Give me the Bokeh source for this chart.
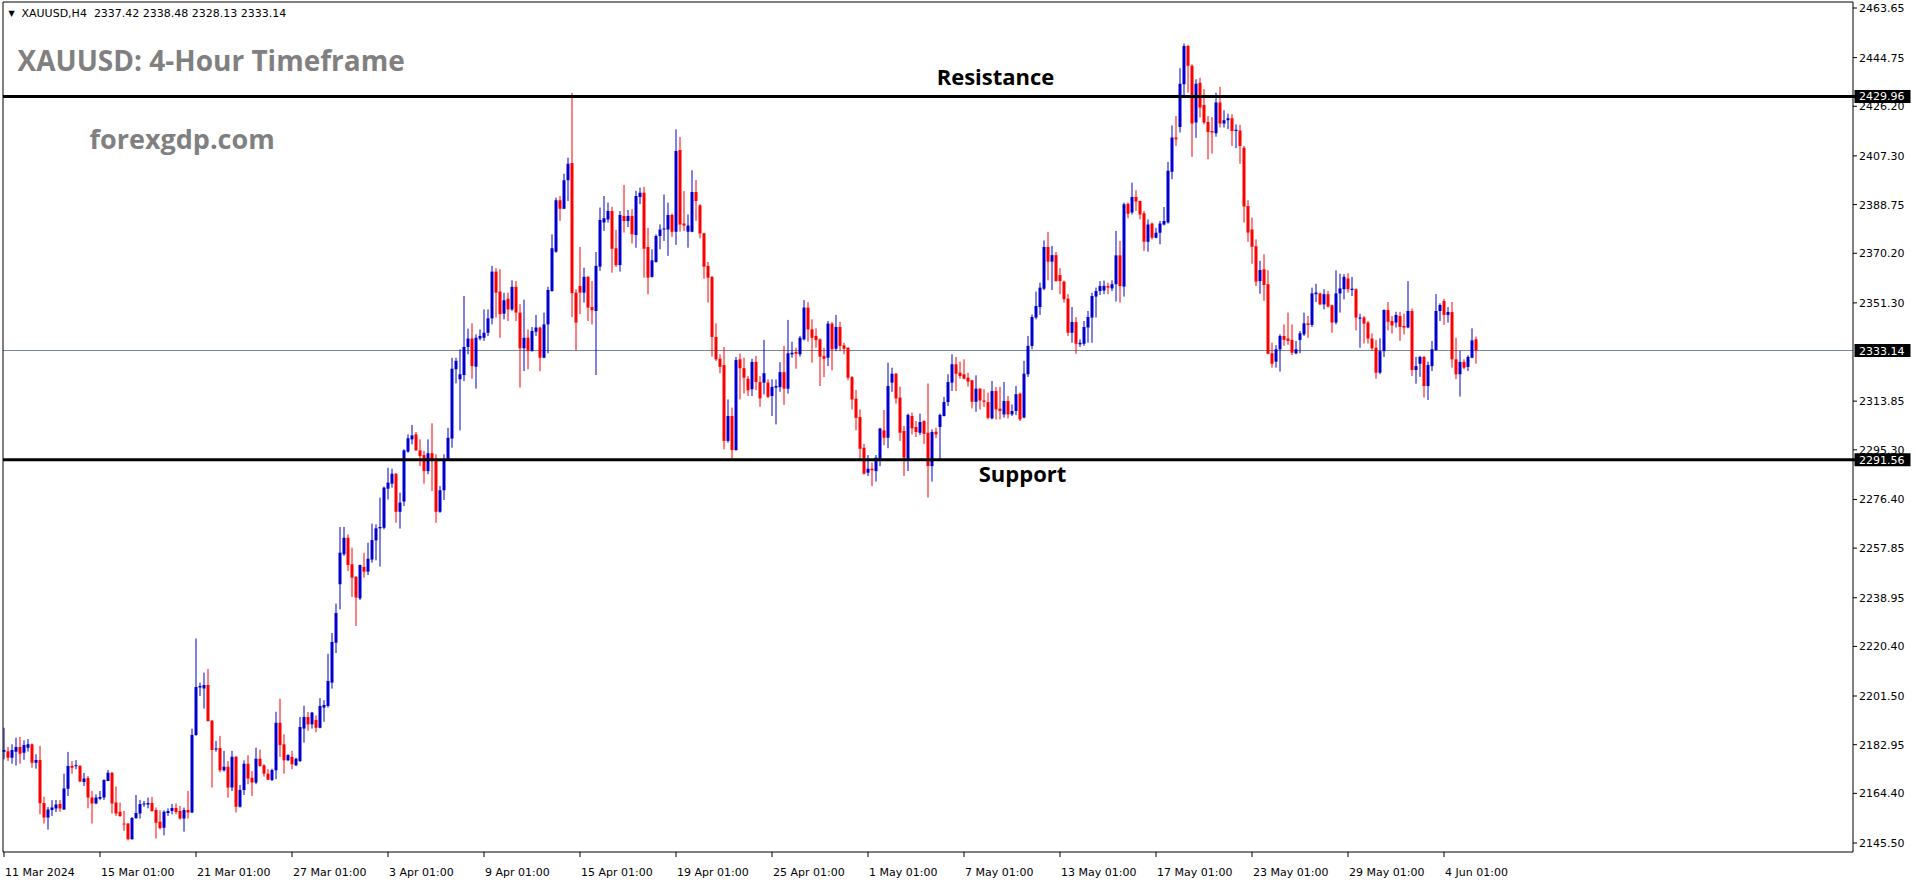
from bokeh.plotting import figure
from bokeh.models import Range1d, ColumnDataSource
from bokeh.core.properties import value
from bokeh.embed import file_html
from bokeh.resources import INLINE

# ---------------- data (XAUUSD H4 candles) ----------------
opens = [
    2180.3, 2180.5, 2178.0, 2180.3, 2182.1, 2179.9, 2181.8, 2183.1, 2176.1, 2177.1,
    2160.7, 2155.2, 2158.1, 2158.6, 2160.4, 2158.3, 2166.2, 2174.8, 2174.7, 2174.8,
    2168.7, 2170.3, 2162.8, 2160.5, 2162.4, 2162.8, 2169.1, 2172.3, 2160.9, 2157.4,
    2152.9, 2152.9, 2146.9, 2154.9, 2156.7, 2160.2, 2160.2, 2160.7, 2158.1, 2153.6,
    2151.3, 2156.9, 2157.7, 2158.8, 2157.7, 2154.8, 2158.1, 2157.1, 2186.6, 2204.7,
    2204.4, 2205.7, 2192.1, 2181.1, 2181.7, 2173.2, 2174.5, 2166.6, 2178.4, 2159.3,
    2165.7, 2175.7, 2170.4, 2168.5, 2177.6, 2175.1, 2171.9, 2169.5, 2173.2, 2191.3,
    2183.1, 2177.0, 2178.3, 2175.1, 2176.7, 2189.1, 2193.5, 2190.7, 2192.4, 2189.4,
    2197.1, 2197.7, 2206.6, 2221.8, 2244.1, 2255.5, 2261.8, 2251.7, 2246.9, 2238.7,
    2250.7, 2248.9, 2253.5, 2260.8, 2265.4, 2265.6, 2280.5, 2282.4, 2286.2, 2271.7,
    2275.6, 2294.6, 2299.3, 2301.2, 2295.1, 2293.3, 2287.2, 2294.0, 2291.1, 2271.7,
    2279.9, 2291.7, 2299.6, 2326.0, 2322.2, 2323.8, 2334.5, 2337.7, 2327.0, 2337.7,
    2338.0, 2339.9, 2345.4, 2363.2, 2355.6, 2347.2, 2352.9, 2348.8, 2357.4, 2347.6,
    2334.0, 2338.0, 2333.0, 2340.3, 2341.9, 2330.4, 2343.1, 2355.8, 2370.8, 2390.4,
    2387.2, 2398.0, 2404.6, 2355.2, 2357.7, 2355.2, 2361.2, 2349.7, 2348.2, 2365.1,
    2381.9, 2383.1, 2386.3, 2372.1, 2365.7, 2384.4, 2382.5, 2384.4, 2377.2, 2391.6,
    2393.3, 2372.6, 2361.2, 2366.9, 2376.8, 2379.3, 2379.3, 2384.8, 2378.4, 2409.5,
    2381.5, 2378.4, 2378.4, 2393.5, 2388.5, 2377.8, 2365.4, 2361.2, 2338.3, 2330.0,
    2327.6, 2298.7, 2308.2, 2295.2, 2329.8, 2326.4, 2322.4, 2318.4, 2328.8, 2321.1,
    2320.9, 2320.9, 2315.8, 2319.0, 2319.2, 2324.9, 2318.6, 2331.7, 2332.6, 2331.7,
    2337.4, 2349.5, 2341.2, 2338.7, 2337.4, 2331.0, 2330.4, 2343.4, 2333.8, 2342.1,
    2335.1, 2334.2, 2323.0, 2314.8, 2307.8, 2296.1, 2286.6, 2288.1, 2287.2, 2291.7,
    2302.7, 2299.9, 2320.9, 2324.3, 2315.2, 2302.5, 2291.7, 2308.2, 2304.0, 2301.8,
    2306.3, 2301.8, 2289.1, 2302.2, 2304.0, 2308.2, 2313.5, 2320.9, 2327.9, 2324.7,
    2324.1, 2322.8, 2321.8, 2313.6, 2318.6, 2314.1, 2313.5, 2307.3, 2317.7, 2311.0,
    2308.8, 2313.9, 2308.8, 2310.1, 2316.7, 2307.6, 2324.1, 2334.9, 2345.7, 2349.7,
    2356.7, 2372.6, 2367.0, 2369.5, 2361.9, 2359.4, 2352.9, 2339.9, 2344.0, 2335.5,
    2335.7, 2341.9, 2345.7, 2353.7, 2355.8, 2356.0, 2357.7, 2356.8, 2358.4, 2369.4,
    2357.5, 2389.1, 2385.7, 2391.6, 2390.1, 2385.4, 2374.6, 2381.5, 2376.1, 2378.0,
    2381.2, 2381.9, 2401.3, 2414.3, 2418.3, 2434.6, 2449.2, 2441.6, 2420.0, 2435.2,
    2426.7, 2420.2, 2416.8, 2415.9, 2427.6, 2419.6, 2420.9, 2421.6, 2416.8, 2417.0,
    2410.4, 2388.2, 2379.3, 2372.9, 2359.6, 2364.1, 2358.4, 2332.1, 2328.9, 2333.6,
    2338.7, 2337.7, 2337.2, 2332.1, 2337.2, 2339.3, 2343.5, 2342.9, 2354.6, 2354.9,
    2350.7, 2354.6, 2350.4, 2343.8, 2354.9, 2356.5, 2360.6, 2356.2, 2356.5, 2345.3,
    2345.7, 2343.8, 2337.7, 2334.2, 2324.7, 2332.9, 2348.6, 2344.4, 2343.8, 2346.3,
    2342.5, 2341.9, 2348.2, 2325.7, 2328.1, 2330.7, 2319.6, 2327.2, 2333.3, 2348.2,
    2352.0, 2346.7, 2347.8, 2329.8, 2324.1, 2328.8, 2326.9, 2330.4, 2337.42,
]
highs = [
    2189.4, 2182.1, 2183.1, 2185.6, 2185.9, 2184.6, 2185.1, 2183.4, 2179.3, 2182.5,
    2163.1, 2159.2, 2161.8, 2161.9, 2161.9, 2171.9, 2180.2, 2176.7, 2177.1, 2175.2,
    2172.2, 2171.0, 2165.3, 2164.0, 2165.3, 2169.8, 2173.3, 2172.5, 2167.0, 2160.9,
    2157.7, 2153.0, 2155.4, 2163.8, 2161.9, 2161.5, 2162.8, 2163.0, 2159.0, 2157.9,
    2157.9, 2158.7, 2160.4, 2160.6, 2159.6, 2159.0, 2165.3, 2189.1, 2223.4, 2206.6,
    2210.4, 2211.8, 2192.4, 2184.4, 2186.3, 2180.6, 2176.7, 2180.6, 2178.6, 2167.6,
    2177.0, 2178.9, 2172.9, 2181.8, 2181.1, 2175.5, 2173.6, 2173.8, 2195.5, 2200.5,
    2186.9, 2179.3, 2180.6, 2178.0, 2193.5, 2197.8, 2195.4, 2195.4, 2194.1, 2200.7,
    2199.9, 2217.6, 2225.5, 2236.7, 2265.9, 2265.9, 2263.1, 2258.0, 2247.2, 2251.6,
    2256.1, 2259.9, 2267.2, 2266.9, 2277.1, 2281.3, 2288.5, 2288.1, 2286.4, 2279.0,
    2295.5, 2301.2, 2304.8, 2302.1, 2299.3, 2294.9, 2299.3, 2305.4, 2293.6, 2281.5,
    2293.6, 2303.7, 2330.4, 2330.4, 2333.6, 2353.9, 2341.5, 2343.5, 2339.3, 2341.2,
    2348.8, 2348.8, 2365.4, 2364.5, 2364.1, 2355.2, 2355.2, 2359.9, 2359.6, 2350.8,
    2352.5, 2341.2, 2342.1, 2346.7, 2342.2, 2347.6, 2357.4, 2377.4, 2391.4, 2392.0,
    2400.5, 2406.6, 2431.3, 2356.5, 2372.6, 2364.7, 2361.5, 2359.6, 2370.7, 2387.6,
    2392.0, 2389.5, 2387.9, 2379.1, 2386.3, 2396.2, 2386.7, 2387.0, 2394.0, 2395.2,
    2395.5, 2379.9, 2371.7, 2377.4, 2381.2, 2392.6, 2389.5, 2385.3, 2417.4, 2414.5,
    2393.9, 2385.0, 2401.8, 2398.1, 2388.9, 2378.0, 2366.9, 2361.5, 2343.5, 2331.7,
    2334.5, 2314.5, 2311.4, 2330.7, 2332.0, 2330.4, 2323.4, 2330.0, 2331.1, 2323.4,
    2337.2, 2322.2, 2322.2, 2322.1, 2328.7, 2334.9, 2344.8, 2336.5, 2334.2, 2338.7,
    2352.4, 2351.6, 2345.0, 2341.6, 2337.8, 2334.2, 2344.4, 2344.0, 2346.7, 2344.1,
    2336.1, 2334.4, 2323.4, 2318.1, 2310.7, 2297.6, 2293.3, 2290.4, 2293.3, 2303.7,
    2310.5, 2328.5, 2326.6, 2324.6, 2319.4, 2304.4, 2309.1, 2309.5, 2306.3, 2309.1,
    2306.5, 2320.6, 2303.1, 2303.7, 2309.1, 2315.5, 2324.1, 2331.7, 2330.7, 2328.9,
    2329.8, 2324.7, 2322.0, 2323.7, 2318.8, 2318.4, 2317.1, 2321.5, 2319.2, 2319.3,
    2321.2, 2315.8, 2312.6, 2319.6, 2317.1, 2329.2, 2338.7, 2346.9, 2355.6, 2359.0,
    2375.1, 2378.3, 2373.0, 2370.7, 2364.5, 2359.8, 2354.6, 2349.7, 2345.9, 2337.4,
    2344.4, 2348.2, 2355.2, 2357.1, 2359.6, 2359.8, 2359.0, 2359.9, 2378.7, 2374.9,
    2389.5, 2389.5, 2397.1, 2394.2, 2390.3, 2386.3, 2383.1, 2381.9, 2379.9, 2382.5,
    2387.8, 2405.0, 2418.9, 2422.5, 2440.7, 2450.1, 2449.6, 2442.2, 2436.5, 2437.1,
    2432.7, 2422.5, 2422.1, 2431.4, 2433.6, 2424.7, 2423.4, 2423.2, 2419.3, 2419.1,
    2411.1, 2390.4, 2383.8, 2375.5, 2367.3, 2369.8, 2363.7, 2336.1, 2335.2, 2339.3,
    2343.1, 2347.6, 2343.1, 2336.8, 2340.6, 2347.6, 2346.3, 2357.1, 2358.6, 2355.2,
    2356.5, 2355.8, 2350.6, 2363.7, 2362.4, 2362.2, 2362.6, 2361.2, 2356.8, 2347.2,
    2346.3, 2344.4, 2339.7, 2337.2, 2337.8, 2348.8, 2351.6, 2346.3, 2347.9, 2347.9,
    2347.2, 2359.6, 2349.1, 2330.7, 2331.1, 2331.0, 2328.9, 2336.8, 2354.6, 2351.1,
    2352.9, 2349.7, 2351.6, 2338.0, 2333.0, 2329.8, 2331.3, 2341.6, 2338.48,
]
lows = [
    2177.4, 2176.7, 2175.7, 2175.0, 2175.7, 2177.2, 2180.3, 2174.2, 2173.8, 2156.4,
    2152.9, 2150.6, 2155.8, 2157.3, 2157.4, 2158.1, 2163.4, 2171.9, 2173.6, 2168.7,
    2167.2, 2158.7, 2152.9, 2160.3, 2161.8, 2161.9, 2169.0, 2156.7, 2155.8, 2155.4,
    2150.1, 2146.5, 2146.8, 2154.8, 2154.8, 2159.3, 2158.7, 2157.4, 2147.2, 2150.6,
    2148.4, 2155.8, 2156.4, 2156.4, 2154.4, 2149.8, 2154.8, 2156.9, 2186.3, 2201.5,
    2196.7, 2191.7, 2166.6, 2180.3, 2172.4, 2172.7, 2162.8, 2165.3, 2157.1, 2159.0,
    2163.8, 2167.9, 2163.4, 2167.9, 2174.6, 2170.8, 2169.5, 2169.1, 2169.8, 2178.3,
    2171.9, 2176.7, 2173.6, 2174.8, 2176.4, 2183.7, 2188.3, 2189.1, 2187.7, 2189.2,
    2191.7, 2197.1, 2204.3, 2217.9, 2234.5, 2254.9, 2249.1, 2239.2, 2228.2, 2238.1,
    2246.6, 2247.6, 2252.3, 2253.2, 2250.8, 2265.0, 2276.4, 2280.9, 2267.5, 2265.3,
    2273.9, 2294.2, 2297.4, 2294.9, 2289.1, 2282.4, 2286.0, 2279.6, 2267.5, 2271.3,
    2276.2, 2291.1, 2296.1, 2320.6, 2302.7, 2321.5, 2331.7, 2322.4, 2318.6, 2337.0,
    2336.8, 2338.7, 2343.1, 2345.7, 2338.0, 2345.0, 2344.4, 2348.2, 2344.4, 2319.0,
    2325.3, 2326.0, 2332.7, 2338.7, 2325.3, 2330.2, 2332.1, 2355.6, 2370.4, 2382.5,
    2387.0, 2390.1, 2345.9, 2333.3, 2347.0, 2351.4, 2344.4, 2343.1, 2323.8, 2363.5,
    2378.7, 2381.9, 2362.8, 2365.0, 2363.2, 2378.1, 2380.2, 2373.9, 2372.3, 2388.9,
    2360.9, 2354.6, 2360.9, 2366.6, 2371.7, 2374.9, 2369.2, 2376.4, 2373.4, 2378.4,
    2378.7, 2372.3, 2378.2, 2382.5, 2375.9, 2360.5, 2351.4, 2330.8, 2329.2, 2324.5,
    2295.5, 2298.0, 2292.1, 2295.0, 2314.5, 2316.8, 2315.8, 2315.8, 2318.0, 2311.7,
    2316.4, 2315.0, 2308.2, 2305.0, 2317.4, 2312.4, 2316.7, 2330.4, 2326.2, 2330.8,
    2337.0, 2336.5, 2328.5, 2334.2, 2319.6, 2323.0, 2327.2, 2325.6, 2332.9, 2332.9,
    2331.7, 2321.8, 2310.7, 2302.7, 2291.7, 2285.9, 2285.3, 2281.5, 2283.2, 2289.1,
    2297.1, 2295.9, 2317.4, 2312.9, 2298.7, 2285.3, 2287.2, 2301.2, 2300.2, 2300.9,
    2297.6, 2277.1, 2283.2, 2299.7, 2291.3, 2308.0, 2312.0, 2317.7, 2317.7, 2322.4,
    2322.1, 2319.4, 2311.1, 2309.8, 2310.7, 2311.6, 2306.9, 2306.9, 2306.9, 2306.9,
    2307.6, 2307.3, 2308.2, 2308.5, 2306.3, 2307.3, 2323.1, 2333.6, 2345.0, 2346.7,
    2356.1, 2359.9, 2356.2, 2359.4, 2354.6, 2351.4, 2338.7, 2336.1, 2331.9, 2334.5,
    2334.9, 2336.1, 2336.1, 2345.7, 2354.3, 2354.6, 2354.6, 2355.8, 2351.8, 2351.4,
    2353.7, 2383.5, 2385.0, 2386.3, 2383.1, 2371.1, 2370.8, 2375.5, 2375.9, 2373.6,
    2380.8, 2381.5, 2398.4, 2411.1, 2416.2, 2430.1, 2431.4, 2406.9, 2414.2, 2421.9,
    2419.3, 2406.0, 2408.2, 2414.6, 2418.1, 2418.1, 2417.5, 2411.1, 2410.2, 2404.3,
    2381.9, 2374.6, 2366.2, 2357.7, 2354.8, 2352.1, 2331.7, 2326.6, 2326.6, 2325.1,
    2334.9, 2335.3, 2331.4, 2331.7, 2332.1, 2338.7, 2338.0, 2342.1, 2351.6, 2350.5,
    2348.8, 2349.5, 2339.9, 2343.1, 2347.6, 2352.6, 2355.2, 2353.9, 2340.8, 2334.2,
    2335.8, 2335.8, 2333.0, 2322.4, 2324.1, 2330.7, 2340.8, 2339.6, 2341.9, 2336.8,
    2339.3, 2341.6, 2323.4, 2320.5, 2323.1, 2315.2, 2314.3, 2325.3, 2333.1, 2344.4,
    2342.9, 2343.8, 2326.6, 2322.2, 2315.6, 2326.0, 2325.3, 2330.2, 2328.13,
]
closes = [
    2180.9, 2178.0, 2180.9, 2182.1, 2179.5, 2182.8, 2183.1, 2176.1, 2177.1, 2160.6,
    2155.2, 2158.3, 2159.0, 2160.2, 2158.6, 2166.3, 2174.8, 2174.2, 2175.0, 2168.9,
    2170.1, 2162.8, 2160.5, 2162.8, 2163.0, 2169.5, 2172.3, 2160.5, 2156.7, 2155.8,
    2152.5, 2146.9, 2155.0, 2156.9, 2160.4, 2160.5, 2160.7, 2157.7, 2153.2, 2151.2,
    2157.4, 2157.7, 2158.8, 2157.3, 2154.8, 2158.1, 2157.1, 2186.6, 2204.9, 2205.3,
    2205.7, 2192.0, 2180.9, 2181.3, 2173.2, 2174.5, 2166.6, 2178.4, 2159.3, 2165.7,
    2175.7, 2170.1, 2168.5, 2177.6, 2174.8, 2171.9, 2169.6, 2173.3, 2191.3, 2182.8,
    2177.0, 2179.0, 2175.5, 2177.6, 2189.7, 2193.5, 2190.7, 2195.2, 2189.4, 2197.7,
    2198.1, 2207.2, 2222.1, 2233.1, 2256.1, 2261.8, 2251.4, 2246.6, 2239.0, 2251.4,
    2248.9, 2253.8, 2260.9, 2265.4, 2265.9, 2280.9, 2282.8, 2286.2, 2271.7, 2275.2,
    2295.1, 2299.7, 2300.8, 2295.1, 2292.9, 2287.2, 2294.0, 2291.1, 2271.7, 2279.9,
    2291.7, 2299.9, 2326.2, 2329.2, 2324.1, 2334.5, 2337.7, 2327.2, 2338.0, 2338.7,
    2339.9, 2345.4, 2363.2, 2355.2, 2347.0, 2352.3, 2348.8, 2357.4, 2347.6, 2334.0,
    2338.0, 2333.0, 2340.6, 2341.9, 2330.4, 2343.1, 2356.2, 2372.1, 2390.4, 2387.2,
    2398.0, 2404.3, 2355.0, 2343.8, 2355.2, 2361.2, 2349.5, 2348.5, 2365.4, 2382.9,
    2383.5, 2386.3, 2371.9, 2365.7, 2384.8, 2382.5, 2384.4, 2377.4, 2392.0, 2393.3,
    2371.9, 2360.9, 2367.5, 2376.8, 2379.3, 2379.6, 2384.8, 2378.4, 2409.2, 2381.2,
    2380.8, 2380.8, 2393.5, 2390.1, 2377.7, 2365.1, 2360.9, 2338.3, 2329.8, 2326.9,
    2298.7, 2308.2, 2295.2, 2329.5, 2326.4, 2322.8, 2318.0, 2328.8, 2321.1, 2314.9,
    2324.5, 2315.5, 2319.3, 2319.6, 2324.9, 2318.6, 2332.1, 2332.3, 2331.9, 2338.0,
    2349.5, 2341.2, 2338.0, 2337.1, 2330.8, 2330.0, 2343.4, 2333.6, 2342.1, 2334.9,
    2333.8, 2322.8, 2314.5, 2307.5, 2295.7, 2286.2, 2288.1, 2287.5, 2292.3, 2303.4,
    2299.9, 2319.6, 2324.3, 2314.9, 2301.8, 2292.3, 2308.6, 2303.5, 2302.1, 2305.9,
    2301.4, 2289.1, 2302.1, 2301.2, 2308.6, 2313.5, 2321.1, 2327.9, 2324.3, 2323.4,
    2322.4, 2321.3, 2313.6, 2318.6, 2314.1, 2313.6, 2307.5, 2317.7, 2310.7, 2310.1,
    2313.9, 2308.8, 2310.1, 2316.5, 2306.9, 2324.3, 2334.9, 2345.9, 2350.1, 2357.1,
    2372.6, 2367.0, 2369.5, 2359.6, 2359.6, 2352.7, 2339.9, 2344.0, 2335.7, 2336.1,
    2342.1, 2345.9, 2353.9, 2355.8, 2357.7, 2357.8, 2357.1, 2358.4, 2369.4, 2357.7,
    2388.9, 2385.3, 2391.6, 2389.9, 2385.0, 2374.6, 2381.2, 2376.1, 2378.0, 2381.5,
    2382.5, 2401.6, 2414.3, 2413.6, 2434.8, 2449.2, 2441.6, 2419.6, 2434.8, 2425.7,
    2420.0, 2416.4, 2416.2, 2427.6, 2419.6, 2420.9, 2421.6, 2416.8, 2417.3, 2411.1,
    2388.0, 2378.1, 2372.7, 2359.4, 2363.8, 2358.1, 2331.9, 2328.1, 2333.6, 2338.7,
    2337.2, 2336.8, 2332.3, 2333.6, 2339.7, 2343.5, 2342.9, 2354.9, 2355.2, 2350.7,
    2354.6, 2349.9, 2343.8, 2354.9, 2356.8, 2361.2, 2356.5, 2356.7, 2345.7, 2345.7,
    2343.4, 2337.7, 2334.0, 2324.7, 2332.9, 2348.6, 2344.1, 2342.7, 2346.7, 2342.1,
    2341.9, 2348.2, 2325.7, 2327.2, 2330.7, 2319.6, 2327.6, 2333.6, 2348.2, 2350.5,
    2346.7, 2347.8, 2329.8, 2324.1, 2328.8, 2326.6, 2330.7, 2337.0, 2333.14,
]

date_labels = ["11 Mar 2024", "15 Mar 01:00", "21 Mar 01:00", "27 Mar 01:00",
               "3 Apr 01:00", "9 Apr 01:00", "15 Apr 01:00", "19 Apr 01:00",
               "25 Apr 01:00", "1 May 01:00", "7 May 01:00", "13 May 01:00",
               "17 May 01:00", "23 May 01:00", "29 May 01:00", "4 Jun 01:00"]
date_bars = [0, 24, 48, 72, 96, 120, 144, 168, 192, 216, 240, 264, 288, 312, 336, 360]
price_ticks = [2463.65, 2444.75, 2426.20, 2407.30, 2388.75, 2370.20, 2351.30,
               2313.85, 2295.30, 2276.40, 2257.85, 2238.95, 2220.40, 2201.50,
               2182.95, 2164.40, 2145.50]
resistance_level = 2429.96
support_level = 2291.56
last_price = 2333.14
symbol_info = "XAUUSD,H4\u00a0\u00a02337.42 2338.48 2328.13 2333.14"

# ---------------- layout (canvas pixels -> data units) ----------------
W, H = 1912, 882
PX_PER_BAR = 4.0
CX_FIRST = 3.5                 # canvas x of the first candle
PX_PER_USD = 2.6245            # vertical scale of the price axis
CY_REF, P_REF = 7.5, 2463.65   # canvas y of the top price tick
CX_LEFT, CX_AXIS = 2.5, 1852.5
CY_TOP, CY_BOT = 1.5, 851.5
BULL = "#0000CD"
BEAR = "#FF0000"
GRAY = "#808080"
FONT_AX = "DejaVu Sans"
FONT_TX = "Open Sans"


def X(cx):
    return (cx - CX_FIRST) / PX_PER_BAR


def Y(cy):
    return P_REF - (cy - CY_REF) / PX_PER_USD


p = figure(width=W, height=H, x_range=Range1d(X(0), X(W)), y_range=Range1d(Y(H), Y(0)),
           x_axis_type=None, y_axis_type=None, toolbar_location=None,
           output_backend="svg", min_border=0, outline_line_color=None,
           background_fill_color="white", border_fill_color="white")
p.title.visible = False

# ---- candles ----
n = min(len(opens), len(highs), len(lows), len(closes))
xs = list(range(n))
colors = [BULL if closes[i] >= opens[i] else BEAR for i in xs]
body_bot = [min(opens[i], closes[i]) for i in xs]
body_top = [max(max(opens[i], closes[i]), body_bot[i] + 1.0 / PX_PER_USD) for i in xs]
src = ColumnDataSource(dict(x=xs, top=body_top, bottom=body_bot,
                            high=highs[:n], low=lows[:n], color=colors))

# ---- level lines (under the candles) ----
p.segment(x0=[X(CX_LEFT)], x1=[X(CX_AXIS)], y0=[last_price], y1=[last_price],
          line_color="#778899", line_width=1)

p.segment(x0="x", y0="low", x1="x", y1="high", line_color="color", line_width=1, source=src)
p.vbar(x="x", width=3.0 / PX_PER_BAR, top="top", bottom="bottom", fill_color="color",
       line_color=None, source=src)

p.segment(x0=[X(CX_LEFT)] * 2, x1=[X(CX_AXIS + 2)] * 2,
          y0=[resistance_level, support_level], y1=[resistance_level, support_level],
          line_color="black", line_width=3)

# ---- chart frame ----
p.segment(x0=[X(CX_LEFT), X(CX_LEFT), X(CX_LEFT), X(CX_AXIS)],
          y0=[Y(CY_TOP), Y(CY_TOP), Y(CY_BOT), Y(CY_TOP)],
          x1=[X(CX_LEFT), X(CX_AXIS), X(CX_AXIS), X(CX_AXIS)],
          y1=[Y(CY_BOT), Y(CY_TOP), Y(CY_BOT), Y(CY_BOT)],
          line_color="black", line_width=1)

# ---- price axis (right) ----
p.segment(x0=[X(CX_AXIS)] * len(price_ticks), x1=[X(CX_AXIS + 4)] * len(price_ticks),
          y0=price_ticks, y1=price_ticks, line_color="black", line_width=1)
p.text(x=[X(CX_AXIS + 6)] * len(price_ticks), y=price_ticks,
       text=["%.2f" % t for t in price_ticks],
       text_font=value(FONT_AX), text_font_size=value("11px"), text_color="black",
       text_align=value("left"), text_baseline=value("middle"))

levels = [resistance_level, last_price, support_level]
half_box = 6.5 / PX_PER_USD
p.quad(left=[X(CX_AXIS + 1.5)] * 3, right=[X(CX_AXIS + 57.5)] * 3,
       top=[v + half_box for v in levels], bottom=[v - half_box for v in levels],
       fill_color="black", line_color=None)
p.text(x=[X(CX_AXIS + 6)] * 3, y=levels, text=["%.2f" % v for v in levels],
       text_font=value(FONT_AX), text_font_size=value("11px"), text_color="white",
       text_align=value("left"), text_baseline=value("middle"))

# ---- time axis (bottom) ----
p.segment(x0=date_bars, x1=date_bars, y0=[Y(CY_BOT)] * len(date_bars),
          y1=[Y(CY_BOT + 5)] * len(date_bars), line_color="black", line_width=1)
p.text(x=date_bars, y=[Y(872)] * len(date_bars), text=date_labels, x_offset=1,
       text_font=value(FONT_AX), text_font_size=value("11px"), text_color="black",
       text_align=value("left"), text_baseline=value("middle"))


# ---- texts on the chart ----
def put_text(cx, cy, txt, font, size, color, bold=False, align="left"):
    p.text(x=[X(cx)], y=[Y(cy)], text=[txt], text_font=value(font),
           text_font_size=value(size), text_color=color,
           text_font_style=value("bold" if bold else "normal"),
           text_align=value(align), text_baseline=value("middle"))


put_text(11, 13, "\u25bc", FONT_AX, "8px", "black", align="center")
put_text(21, 13, symbol_info, FONT_AX, "11px", "black")
put_text(17, 59, "XAUUSD: 4-Hour Timeframe", FONT_TX, "28px", GRAY, bold=True)
put_text(89, 138, "forexgdp.com", FONT_TX, "27px", GRAY, bold=True)
put_text(995, 75.5, "Resistance", FONT_TX, "22px", "black", bold=True, align="center")
put_text(1022, 472.5, "Support", FONT_TX, "22px", "black", bold=True, align="center")

open("out.html", "w").write(file_html(p, INLINE))
